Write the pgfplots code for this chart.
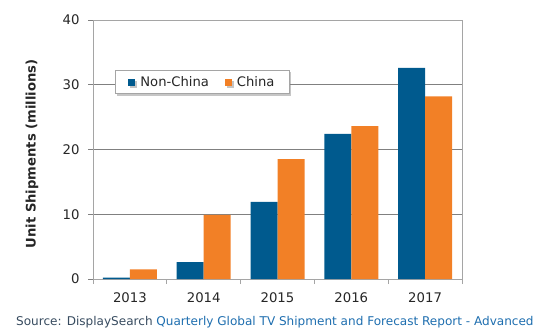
\documentclass[border=0pt]{standalone}
\usepackage{pgfplots}
\pgfplotsset{compat=1.18}
\usepackage{fontspec}
\setmainfont{DejaVu Sans}
\usetikzlibrary{shadows}
\definecolor{ncblue}{RGB}{0,90,142}
\definecolor{cnorange}{RGB}{242,128,38}
\definecolor{axgray}{RGB}{165,165,165}
\definecolor{gridgray}{RGB}{128,128,128}
\definecolor{srcgray}{RGB}{55,75,95}
\definecolor{srcblue}{RGB}{30,110,175}
\begin{document}
\begin{tikzpicture}[x=1bp,y=1bp]
\useasboundingbox (0,0) rectangle (544,333);
\begin{axis}[
  at={(93bp,54bp)}, anchor=south west,
  scale only axis, width=369bp, height=259bp,
  ybar=0pt, bar width=27bp,
  xmin=-0.5, xmax=4.5, ymin=0, ymax=40,
  xtick={0,1,2,3,4}, xticklabels={2013,2014,2015,2016,2017},
  major x tick style={draw=none},
  extra x ticks={-0.5,0.5,1.5,2.5,3.5,4.5}, extra x tick labels={},
  extra x tick style={major x tick style={draw=axgray, line width=0.8pt}, xmajorgrids=false},
  ytick={0,10,20,30,40},
  ymajorgrids, major grid style={draw=gridgray, line width=0.6pt},
  tick align=outside, major tick length=5bp,
  xtick pos=bottom, ytick pos=left,
  major y tick style={draw=gridgray, line width=0.6pt},
  axis line style={draw=axgray, line width=0.9pt},
  /pgf/number format/assume math mode=true,
  tick label style={font=\fontsize{13.3}{15}\selectfont, text=black!85},
  yticklabel style={xshift=-5bp},
  xticklabel style={yshift=-5bp},
  every axis y label/.style={at={(axis description cs:-0.165,0.483)}, rotate=90, anchor=center},
  ylabel={\bfseries Unit Shipments (millions)},
  ylabel style={font=\fontsize{13.2}{15}\selectfont, text=black!85},
  legend columns=2,
  legend style={at={(axis description cs:0.0596,0.807)}, anchor=north west,
    draw=axgray, fill=white, line width=0.8pt,
    drop shadow={shadow xshift=2bp, shadow yshift=-2bp, opacity=0.45},
    font=\fontsize{13.2}{15}\selectfont, text=black!85,
    inner xsep=13bp, inner ysep=4bp,
    /tikz/every odd column/.append style={column sep=3bp},
    /tikz/every even column/.append style={column sep=14bp}},
  legend image code/.code={\fill[#1] (0bp,-3.5bp) rectangle (7bp,3.5bp);},
]
\addplot[fill=ncblue, draw=none] coordinates {(0,0.2) (1,2.6) (2,11.9) (3,22.4) (4,32.6)};
\addplot[fill=cnorange, draw=none] coordinates {(0,1.5) (1,9.9) (2,18.5) (3,23.6) (4,28.2)};
\legend{Non-China, China}
\end{axis}
\node[anchor=base west, inner sep=0pt, font=\fontsize{12.1}{14}\selectfont] at (16,8)
  {\textcolor{srcgray}{Source: DisplaySearch} \textcolor{srcblue}{Quarterly Global TV Shipment and Forecast Report - Advanced}};
\end{tikzpicture}
\end{document}
